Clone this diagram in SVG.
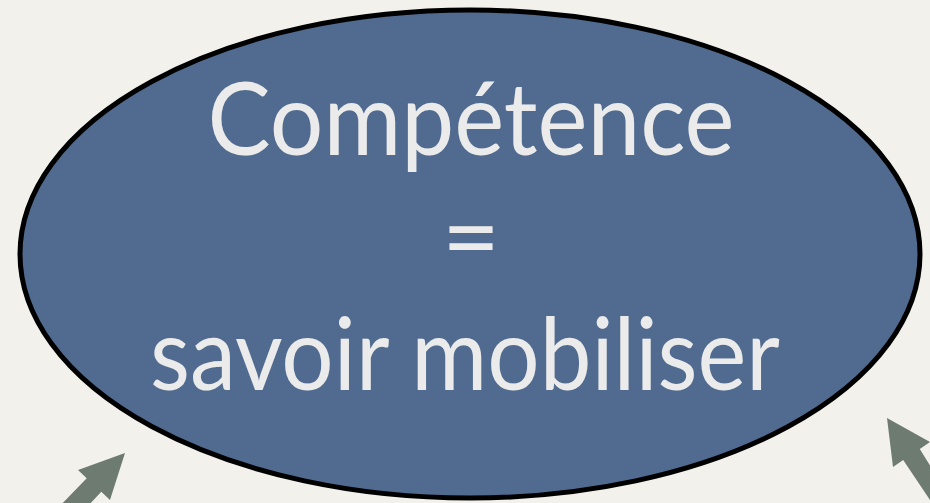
<svg xmlns="http://www.w3.org/2000/svg" width="930" height="503" viewBox="0 0 930 503">
  <style>
    .lbl { font-family: Lato, "Open Sans", "Liberation Sans", sans-serif; font-size: 100px; fill: #ebebeb; text-anchor: middle; }
    .arrow { fill: #6e7b70; }
  </style>
  <rect width="930" height="503" fill="#f3f1ec"/>
  <g id="competence">
    <ellipse cx="470" cy="254" rx="450" ry="244" fill="#506b8f" stroke="#000" stroke-width="5"/>
    <text class="lbl" x="471" y="155" textLength="527" lengthAdjust="spacingAndGlyphs">Compétence</text>
    <text class="lbl" x="471" y="272">=</text>
    <text class="lbl" x="465" y="390" textLength="630" lengthAdjust="spacingAndGlyphs">savoir mobiliser</text>
  </g>
  <g id="connectors">
    <polygon class="arrow" points="125,453 78,470 86.7,478.2 55,511 70,525 101.3,491.8 110,500"/>
    <polygon class="arrow" points="887,418 893,467 903.2,460.1 930,500 945,490 919.8,448.9 930,442"/>
  </g>
</svg>
